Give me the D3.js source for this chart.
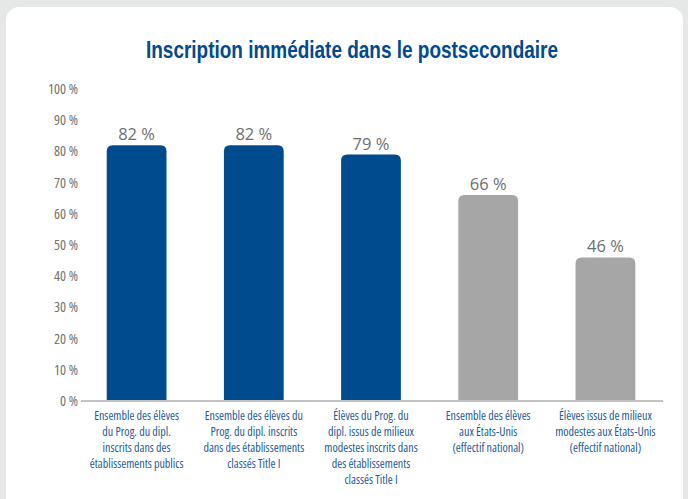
<!DOCTYPE html>
<html><head><meta charset="utf-8">
<script src="https://cdn.jsdelivr.net/npm/d3@7"></script>
<style>
html,body{margin:0;padding:0;background:#e6e7e7;}
svg{display:block;}
</style></head>
<body>
<svg id="c" width="688" height="499"></svg>
<script>
const categories = [
  ["Ensemble des élèves","du Prog. du dipl.","inscrits dans des","établissements publics"],
  ["Ensemble des élèves du","Prog. du dipl. inscrits","dans des établissements","classés Title I"],
  ["Élèves du Prog. du","dipl. issus de milieux","modestes inscrits dans","des établissements","classés Title I"],
  ["Ensemble des élèves","aux États-Unis","(effectif national)"],
  ["Élèves issus de milieux","modestes aux États-Unis","(effectif national)"]
];
const values = [82, 82, 79, 66, 46];
const groups = ["ib","ib","ib","us","us"];
const yTicks = [0,10,20,30,40,50,60,70,80,90,100];
const title = "Inscription immédiate dans le postsecondaire";

const svg = d3.select("#c");
const sans = "'Liberation Sans',Arial,sans-serif";
const lab = "'Open Sans',sans-serif";

// helper: measure width of a string
function measure(str, size, family){
  const t = svg.append("text").attr("font-family",family).attr("font-size",size)
    .style("font-stretch","condensed").text(str);
  const w = t.node().getComputedTextLength(); t.remove(); return w;
}

// card
svg.append("rect").attr("x",6).attr("y",7).attr("width",677).attr("height",520)
  .attr("rx",13).attr("fill","#ffffff");

svg.append("text").attr("x",352).attr("y",58).attr("text-anchor","middle")
  .attr("font-family",sans).attr("font-weight","bold").attr("font-size",24)
  .attr("textLength",412).attr("lengthAdjust","spacingAndGlyphs")
  .attr("fill","#004a8f").text(title);

const y = d3.scaleLinear().domain([0,100]).range([401,89]);
const x = d3.scaleBand().domain(d3.range(values.length)).range([78,664]).paddingInner(0.49).paddingOuter(0.245);

// y tick labels (condensed via horizontal scaling)
const tickSize = 14;
const tickSx = 30 / measure("100 %", tickSize, lab);
const yAxis = d3.axisLeft(y).tickValues(yTicks).tickSize(0).tickPadding(0).tickFormat(d=>d+" %");
const ga = svg.append("g").attr("transform",`translate(78,0) scale(${tickSx},1)`).call(yAxis);
ga.select(".domain").remove();
ga.selectAll("text").attr("font-family",lab).attr("font-size",tickSize).attr("fill","#727272")
  .style("font-stretch","condensed");

const colors = {ib:"#004b8d", us:"#a6a6a6"};
const r = 6;
svg.append("g").selectAll("path").data(values).join("path")
  .attr("fill",(d,i)=>colors[groups[i]])
  .attr("d",(d,i)=>{
    const x0=x(i), w=x.bandwidth(), yt=y(d), yb=y(0);
    return `M${x0},${yb}V${yt+r}Q${x0},${yt} ${x0+r},${yt}H${x0+w-r}Q${x0+w},${yt} ${x0+w},${yt+r}V${yb}Z`;
  });

// baseline
svg.append("line").attr("x1",81).attr("x2",663).attr("y1",y(0)).attr("y2",y(0))
  .attr("stroke","#c3c3c3").attr("stroke-width",2);

// value labels
svg.append("g").selectAll("text").data(values).join("text")
  .attr("x",(d,i)=>x(i)+x.bandwidth()/2).attr("y",d=>y(d)-5)
  .attr("text-anchor","middle").attr("font-family","'Open Sans',sans-serif")
  .attr("font-size",16.5).attr("fill","#6e6e6e").text(d=>d+" %");

// category labels (condensed via horizontal scaling)
const catSize = 13;
const catSx = 85 / measure("Ensemble des élèves", catSize, lab);
const xAxis = svg.append("g");
categories.forEach((lines,i)=>{
  const cx = x(i)+x.bandwidth()/2;
  const g = xAxis.append("g").attr("transform",`translate(${cx},0) scale(${catSx},1)`);
  const t = g.append("text").attr("text-anchor","middle")
    .attr("font-family",lab).attr("font-size",catSize).attr("fill","#1d5b9c")
    .style("font-stretch","condensed");
  lines.forEach((l,j)=>{
    t.append("tspan").attr("x",0).attr("y",420+j*16).text(l);
  });
});
</script>
</body></html>
